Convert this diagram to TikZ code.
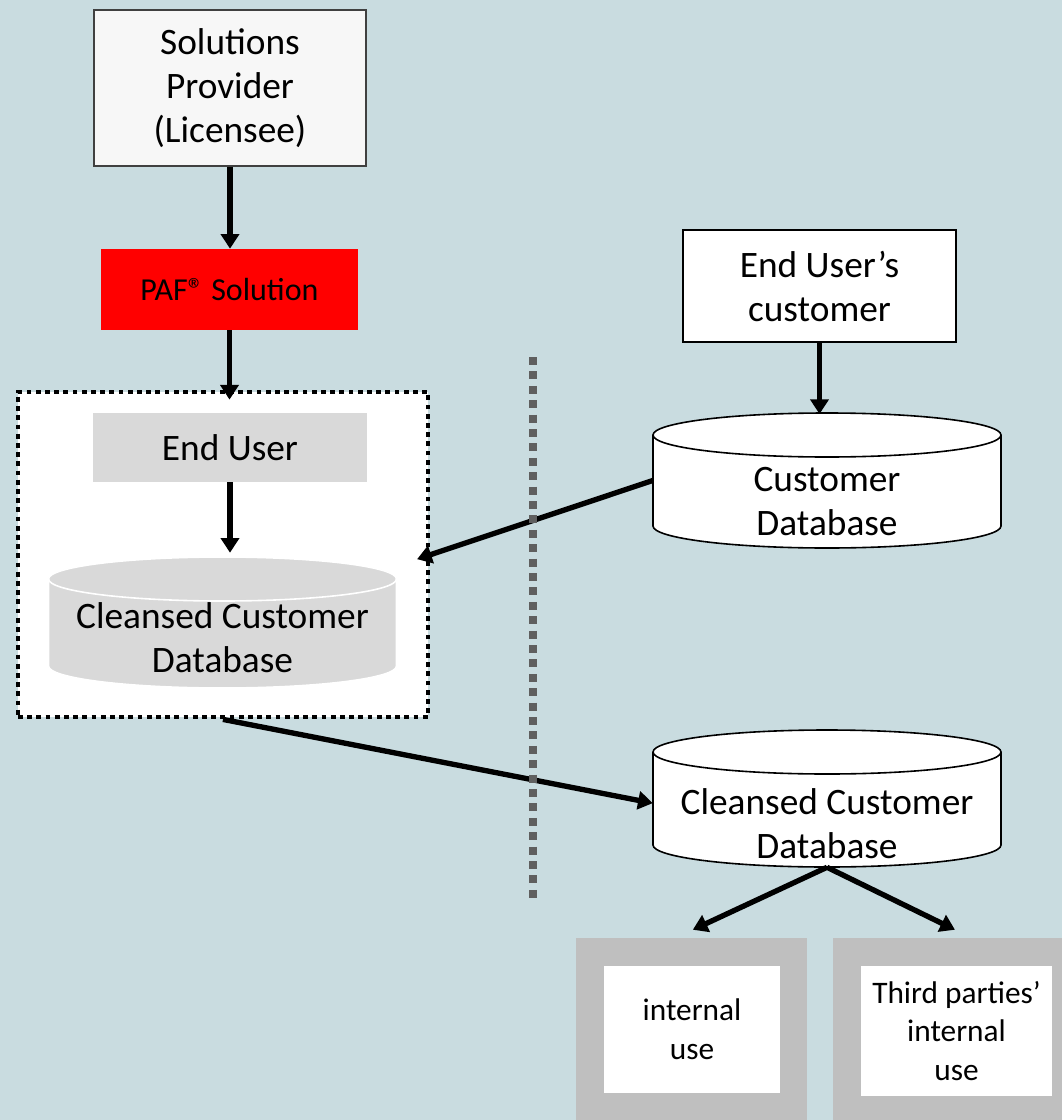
\documentclass[tikz,border=0pt]{standalone}
\usepackage{fontspec}
\setmainfont{Carlito}
\usetikzlibrary{arrows.meta,positioning}
\definecolor{pafbg}{HTML}{C9DCE0}
\definecolor{pafred}{HTML}{FF0000}
\definecolor{paflight}{HTML}{D9D9D9}
\definecolor{pafframe}{HTML}{BFBFBF}
\definecolor{pafdots}{HTML}{5F5F5F}
\definecolor{pafpaper}{HTML}{F7F7F7}

% database drum: centre (x,y), height, fill, line colour
\newcommand{\dbcyl}[4]{%
  \filldraw[fill=#3,draw=#4,line width=1.2pt]
    ([shift={(-130.5pt,#2/2-16.5pt)}]#1) -- ++(0pt,-#2+33pt)
    arc[start angle=180,end angle=360,x radius=130.5pt,y radius=16.5pt]
    -- ++(0pt,#2-33pt)
    arc[start angle=0,end angle=180,x radius=130.5pt,y radius=16.5pt] -- cycle;
  \draw[#4,line width=1.2pt] ([shift={(-130.5pt,#2/2-16.5pt)}]#1)
    arc[start angle=180,end angle=360,x radius=130.5pt,y radius=16.5pt];}

\begin{document}
\begin{tikzpicture}[x=0.75pt,y=-0.75pt,
  box/.style={rectangle,inner sep=0pt,align=center,
              font=\fontsize{28}{33}\selectfont},
  usebox/.style={rectangle,inner sep=0pt,align=center,fill=white,
              font=\fontsize{23.5}{29}\selectfont},
  db/.style={rectangle,inner sep=0pt,minimum width=261pt,
             font=\fontsize{28}{33}\selectfont},
  arr/.style={-{Triangle[length=11pt,width=13.5pt]},line width=4pt}
]

  % ---- Background --------------------------------------------
  \fill[pafbg] (0,0) rectangle (1062,1120);
  \useasboundingbox (0,0) rectangle (1062,1120);

  % ---- Left column: licensee chain ---------------------------
  \node[box,fill=pafpaper,draw=black!75,line width=0.8pt,
        minimum width=204pt,minimum height=117pt] (provider) at (230,88)
    {Solutions\\Provider\\(Licensee)};

  \node[box,fill=pafred,minimum width=192.75pt,minimum height=60.75pt,
        font=\fontsize{24}{29}\selectfont] (paf) at (229.5,289.5)
    {PAF® Solution};

  % dotted frame round the end user
  \node[rectangle,fill=white,draw=black,line width=3.6pt,
        dash pattern=on 3.6pt off 3.3pt,
        minimum width=307.5pt,minimum height=243.75pt] (group) at (223,554.5) {};

  \node[box,fill=paflight,minimum width=205.5pt,minimum height=51.75pt]
    (enduser) at (230,447.5) {End User};

  \dbcyl{222.5,622.5}{98.25pt}{paflight}{white}
  \node[db,minimum height=98.25pt] (cleansedL) at (222.5,622.5)
    {\raisebox{-20.4pt}[20pt][20pt]{\begin{tabular}{@{}c@{}}Cleansed Customer\\Database\end{tabular}}};

  % ---- Right column: end user's customer ---------------------
  \node[box,fill=white,draw=black,line width=1.5pt,
        minimum width=204.75pt,minimum height=84pt] (customer) at (819.5,286)
    {End User’s\\customer};

  \dbcyl{827,480.5}{101.25pt}{white}{black}
  \node[db,minimum height=101.25pt] (custdb) at (827,480.5)
    {\raisebox{-24pt}[20pt][20pt]{\begin{tabular}{@{}c@{}}Customer\\Database\end{tabular}}};

  \dbcyl{827,798.5}{102.75pt}{white}{black}
  \node[db,minimum height=102.75pt] (cleansedR) at (827,798.5)
    {\raisebox{-28.4pt}[20pt][20pt]{\begin{tabular}{@{}c@{}}Cleansed Customer\\Database\end{tabular}}};

  % ---- Use boxes ---------------------------------------------
  \node[rectangle,fill=pafframe,minimum width=173.25pt,minimum height=136.5pt]
    (internalframe) at (691.5,1029) {};
  \node[usebox,minimum width=132pt,minimum height=95.25pt]
    (internal) at (692,1029.5) {internal\\use};

  \node[rectangle,fill=pafframe,minimum width=171.75pt,minimum height=136.5pt]
    (thirdframe) at (947.5,1029) {};
  \node[usebox,minimum width=143.25pt,minimum height=97.5pt]
    (third) at (956.5,1031) {Third parties’\\internal\\use};

  % ---- Arrows ------------------------------------------------
  \draw[arr] (provider.south) -- (provider.south |- paf.north);
  \draw[arr] (paf.south) -- ([yshift=-7.5pt]paf.south |- group.north);
  \draw[arr] (enduser.south) -- ([yshift=3pt]enduser.south |- cleansedL.north);
  \draw[arr] (customer.south) -- ([yshift=-1pt]customer.south |- custdb.north);
  \draw[arr] (custdb.west) -- ([xshift=-10pt,yshift=-3.5pt]group.east);
  \draw[arr] (group.south) -- ([yshift=-3.5pt]cleansedR.west);
  \draw[arr] (cleansedR.south) -- ([xshift=1pt,yshift=6pt]internalframe.north);
  \draw[arr] (cleansedR.south) -- ([xshift=5.6pt,yshift=6pt]thirdframe.north);

  % ---- Divider -----------------------------------------------
  \coordinate (divtop) at (533,357);
  \coordinate (divbot) at (533,903);
  \draw[pafdots,line width=6pt,dash pattern=on 6pt off 4.8pt] (divtop) -- (divbot);

\end{tikzpicture}
\end{document}
